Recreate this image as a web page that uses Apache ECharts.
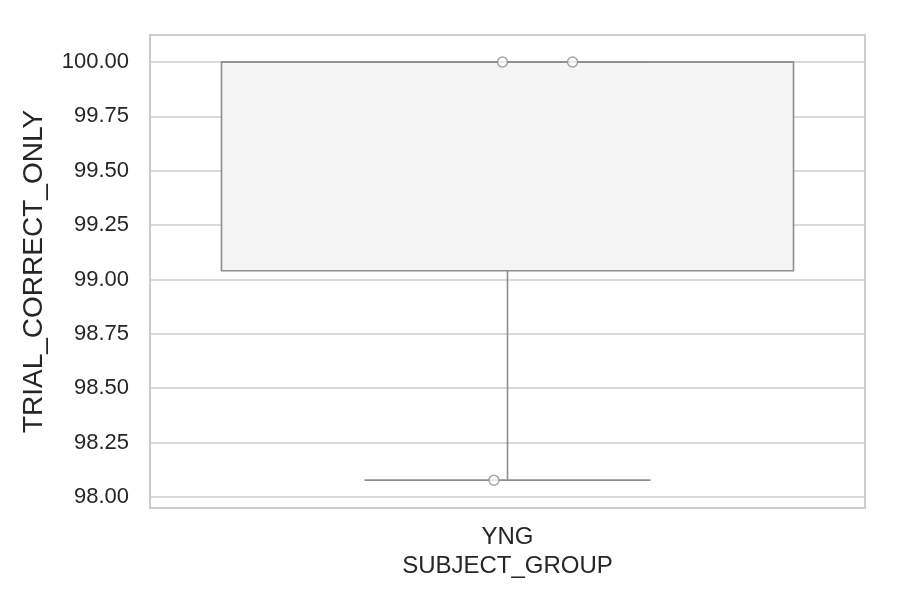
<!DOCTYPE html>
<html><head><meta charset="utf-8">
<script src="https://cdn.jsdelivr.net/npm/echarts@6/dist/echarts.min.js"></script>
<style>html,body{margin:0;padding:0;background:#fff}#c{width:900px;height:600px}</style>
</head><body><div id="c"></div>
<script>
const categories = ['YNG'];
// box stats: [whiskerLow, q1, median, q3, whiskerHigh]
const boxStats = [[98.077, 99.04, 100.0, 100.0, 100.0]];
// individual points: jitter offset (fraction of category width), value
const pointJitter = [-0.007, 0.091, -0.019];
const pointValues = [100.0, 100.0, 98.077];
const yTicks = [98.0, 98.25, 98.5, 98.75, 99.0, 99.25, 99.5, 99.75, 100.0];

const chart = echarts.init(document.getElementById('c'), null, {renderer: 'canvas'});
const edge = '#8e8e8e';
const font = 'Liberation Sans, Arial, sans-serif';
chart.setOption({
  animation: false,
  grid: {left: 150, right: 35, top: 35, bottom: 92, show: true, borderColor: '#cccccc', borderWidth: 2, backgroundColor: '#fff'},
  xAxis: [{
    type: 'category', data: categories,
    name: 'SUBJECT_GROUP', nameLocation: 'middle', nameGap: 42,
    nameTextStyle: {fontSize: 24, color: '#262626', fontFamily: font},
    axisLine: {show: false}, axisTick: {show: false},
    axisLabel: {fontSize: 24, color: '#262626', fontFamily: font, margin: 17},
    splitLine: {show: false}
  }, {
    type: 'value', min: -0.5, max: 0.5, show: false
  }],
  yAxis: {
    type: 'value', min: 97.949, max: 100.124,
    name: 'TRIAL_CORRECT_ONLY', nameLocation: 'middle', nameGap: 102,
    nameTextStyle: {fontSize: 28, color: '#262626', fontFamily: font},
    axisLine: {show: false},
    axisTick: {show: false, customValues: yTicks},
    axisLabel: {fontSize: 22, color: '#262626', fontFamily: font, margin: 21,
      customValues: yTicks, formatter: v => v.toFixed(2)},
    splitLine: {show: true, lineStyle: {color: '#cccccc', width: 1.5}}
  },
  series: [{
    type: 'custom', xAxisIndex: 0, z: 3,
    data: boxStats.map((s, i) => [i, ...s]),
    renderItem: function (params, api) {
      const i = api.value(0);
      const w = api.size([1, 0])[0] * 0.8;
      const x = api.coord([i, 0])[0];
      const lo = api.coord([i, api.value(1)])[1];
      const q1 = api.coord([i, api.value(2)])[1];
      const med = api.coord([i, api.value(3)])[1];
      const q3 = api.coord([i, api.value(4)])[1];
      const hi = api.coord([i, api.value(5)])[1];
      const st = {stroke: edge, lineWidth: 1.6, fill: null};
      return {type: 'group', children: [
        {type: 'rect', shape: {x: x - w / 2, y: q3, width: w, height: q1 - q3}, style: {fill: '#f5f5f5', stroke: edge, lineWidth: 1.6}},
        {type: 'line', shape: {x1: x, y1: q1, x2: x, y2: lo}, style: st},
        {type: 'line', shape: {x1: x, y1: q3, x2: x, y2: hi}, style: st},
        {type: 'line', shape: {x1: x - w / 4, y1: lo, x2: x + w / 4, y2: lo}, style: st},
        {type: 'line', shape: {x1: x - w / 4, y1: hi, x2: x + w / 4, y2: hi}, style: st},
        {type: 'line', shape: {x1: x - w / 2, y1: med, x2: x + w / 2, y2: med}, style: st}
      ]};
    }
  }, {
    type: 'scatter', xAxisIndex: 1, z: 5,
    data: pointValues.map((v, i) => [pointJitter[i], v]),
    symbol: 'circle', symbolSize: 10,
    itemStyle: {color: '#ffffff', borderColor: edge, borderWidth: 1.5}
  }]
});
</script></body></html>
